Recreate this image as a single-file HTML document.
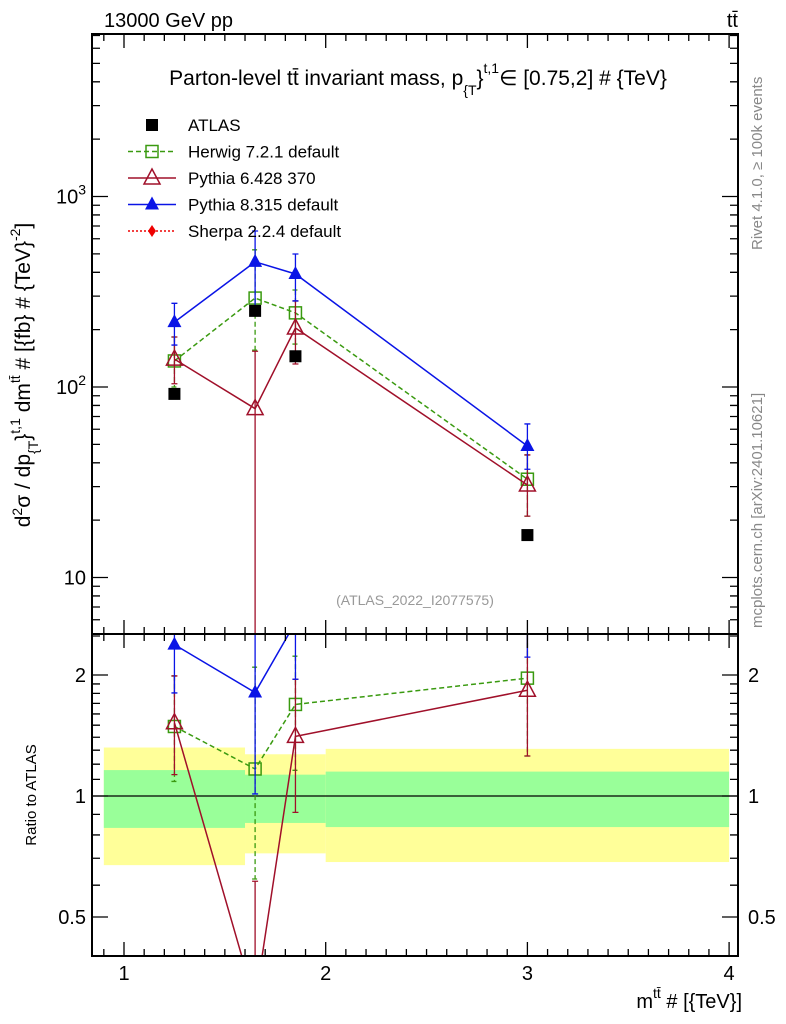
<!DOCTYPE html>
<html><head><meta charset="utf-8"><style>
html,body{margin:0;padding:0;background:#fff;width:786px;height:1024px;overflow:hidden}
svg{display:block;font-family:"Liberation Sans",sans-serif}
</style></head><body>
<svg id="c" width="786" height="1024" viewBox="0 0 786 1024" xmlns="http://www.w3.org/2000/svg">
<g id="bands"></g><g id="marks"></g><g id="axes"></g>
<text x="104" y="27" font-size="20">13000 GeV pp</text>
<text x="738" y="27" font-size="20" text-anchor="end">tt̄</text>
<text x="418" y="85" font-size="21" text-anchor="middle">Parton-level tt̄ invariant mass, p<tspan font-size="14" dy="10">{T</tspan><tspan font-size="21" dy="-10">}</tspan><tspan font-size="14" dy="-12">t,1</tspan><tspan font-size="21" dy="12">∈ [0.75,2] # {TeV}</tspan></text>
<text x="415" y="605" font-size="14" fill="#999" text-anchor="middle">(ATLAS_2022_I2077575)</text>
<text transform="translate(762,250) rotate(-90)" font-size="15" fill="#888">Rivet 4.1.0, ≥ 100k events</text>
<text transform="translate(762,628) rotate(-90)" font-size="15" fill="#888">mcplots.cern.ch [arXiv:2401.10621]</text>
<text transform="translate(30,375) rotate(-90)" font-size="21" text-anchor="middle">d<tspan font-size="14" dy="-8">2</tspan><tspan dy="8">σ / dp</tspan><tspan font-size="14" dy="8">{T</tspan><tspan dy="-8">}</tspan><tspan font-size="14" dy="-10">t,1</tspan><tspan dy="10"> dm</tspan><tspan font-size="14" dy="-10">tt̄</tspan><tspan dy="10"> # [{fb} # {TeV}</tspan><tspan font-size="14" dy="-10">-2</tspan><tspan dy="10">]</tspan></text>
<text transform="translate(36,795) rotate(-90)" font-size="15" text-anchor="middle">Ratio to ATLAS</text>
<text x="742" y="1008" font-size="20" text-anchor="end">m<tspan font-size="14" dy="-10">tt̄</tspan><tspan dy="10"> # [{TeV}]</tspan></text>
<g id="legend"></g>
</svg>
<script>
const xs=[1.25,1.65,1.85,3.0];
const atlas=[92,251,145,16.7];
const herwig=[137,293,245,32.8];
const herwigUp=[183,525,323,44];
const herwigDn=[100,156,168,21];
const py6=[140,77,204,30.6];
const py6Up=[183,154,283,44];
const py6Dn=[104,1,132,21];
const py8=[219,454,392,49];
const py8Up=[275,659,499,64];
const py8Dn=[166,254,283,37];
const binEdges=[0.9,1.6,2.0,4.0];
const yellowHi=[1.32,1.27,1.31];
const yellowLo=[0.673,0.72,0.685];
const greenHi=[1.16,1.13,1.15];
const greenLo=[0.833,0.857,0.837];
const xTicks=[1,2,3,4];

const NS="http://www.w3.org/2000/svg";
const L=92,R=738,T1=34,B1=634,B2=956;
const X=v=>124+(v-1)*201.7;
const Y=v=>387-(Math.log10(v)-2)*190.5;
const YR=v=>796-Math.log10(v)*402;
function mk(t,a,p){const e=document.createElementNS(NS,t);for(const k in a)e.setAttribute(k,a[k]);(p||document.getElementById('marks')).appendChild(e);return e;}
const defs=mk('defs',{},document.getElementById('c'));
const c1=mk('clipPath',{id:'cp1'},defs);mk('rect',{x:L,y:T1,width:R-L,height:B1-T1},c1);
const c2=mk('clipPath',{id:'cp2'},defs);mk('rect',{x:L,y:B1,width:R-L,height:B2-B1},c2);
const bands=document.getElementById('bands');
for(let i=0;i<3;i++){
 let r=mk('rect',{x:X(binEdges[i]),y:YR(yellowHi[i]),width:X(binEdges[i+1])-X(binEdges[i]),height:YR(yellowLo[i])-YR(yellowHi[i]),fill:'#ffff99'},bands);
 
 
 let g=mk('rect',{x:X(binEdges[i]),y:YR(greenHi[i]),width:X(binEdges[i+1])-X(binEdges[i]),height:YR(greenLo[i])-YR(greenHi[i]),fill:'#99ff99'},bands);
 
 
}
const marks=document.getElementById('marks');
const g1=mk('g',{'clip-path':'url(#cp1)'},marks);
const g2=mk('g',{'clip-path':'url(#cp2)'},marks);
mk('line',{x1:L,x2:R,y1:YR(1),y2:YR(1),stroke:'#000','stroke-width':1.3},g2);
function marker(type,col,x,y,p){
 if(type==='sq')return mk('rect',{x:x-6,y:y-6,width:12,height:12,fill:'none',stroke:col,'stroke-width':1.5},p);
 if(type==='fsq')return mk('rect',{x:x-6,y:y-6,width:12,height:12,fill:col},p);
 if(type==='tri')return mk('path',{d:`M${x},${y-9}L${x+8},${y+6}L${x-8},${y+6}Z`,fill:'none',stroke:col,'stroke-width':1.5},p);
 if(type==='ftri')return mk('path',{d:`M${x},${y-8}L${x+7},${y+5}L${x-7},${y+5}Z`,fill:col},p);
 if(type==='dia')return mk('path',{d:`M${x},${y-6}L${x+4},${y}L${x},${y+6}L${x-4},${y}Z`,fill:col},p);
}
function series(name,vals,up,dn,col,dash,type){
 [[g1,Y,1],[g2,YR,0]].forEach(([g,f,main])=>{
  const v=i=>main?vals[i]:vals[i]/atlas[i];
  const u=i=>main?up[i]:up[i]/atlas[i];
  const d=i=>main?dn[i]:dn[i]/atlas[i];
  const pts=xs.map((x,i)=>X(x)+','+f(v(i))).join(' ');
  const pl=mk('polyline',{points:pts,fill:'none',stroke:col,'stroke-width':1.5,'stroke-dasharray':dash},g);
  
  
  xs.forEach((x,i)=>{
   const e=mk('path',{d:`M${X(x)},${f(u(i))}V${f(d(i))}M${X(x)-3},${f(u(i))}h6M${X(x)-3},${f(d(i))}h6`,stroke:col,'stroke-width':1.3,'stroke-dasharray':dash,fill:'none'},g);
   
   
   const m=marker(type,col,X(x),f(v(i)),g);
   
   
  });
 });
}
series('herwig',herwig,herwigUp,herwigDn,'#3a9a10','5,3','sq');
series('pythia6',py6,py6Up,py6Dn,'#a0102a','','tri');
series('pythia8',py8,py8Up,py8Dn,'#0a14e6','','ftri');
xs.forEach((x,i)=>{
 const m=marker('fsq','#000',X(x),Y(atlas[i]),g1);
 
 
});
const ax=document.getElementById('axes');
mk('rect',{x:L,y:T1,width:R-L,height:B1-T1,fill:'none',stroke:'#000','stroke-width':2},ax);
mk('rect',{x:L,y:B1,width:R-L,height:B2-B1,fill:'none',stroke:'#000','stroke-width':2},ax);
for(let v=0.9;v<=4.04;v+=0.1){
 const big=Math.abs(v-Math.round(v))<1e-6;const x=X(v),h=big?14:7;
 mk('path',{d:`M${x},${T1}v${h}M${x},${B1}v-${h}M${x},${B1}v${h}M${x},${B2}v-${h}`,stroke:'#000','stroke-width':1.3},ax);
}
xTicks.forEach(t=>{const tx=mk('text',{x:X(t),y:980,'font-size':20,'text-anchor':'middle'},ax);tx.textContent=t;
 
 });
for(let d=0;d<4;d++)for(let k=1;k<10;k++){
 const v=k*Math.pow(10,d);const y=Y(v);if(y<T1||y>B1)continue;const h=k===1?16:8;
 mk('path',{d:`M${L},${y}h${h}M${R},${y}h-${h}`,stroke:'#000','stroke-width':1.3},ax);
}
[[10,'10'],[100,'10²'],[1000,'10³']].forEach(([v,s])=>{
 const t=mk('text',{x:86,y:Y(v)+7,'font-size':20,'text-anchor':'end'},ax);
 if(v===10)t.textContent='10';else{t.textContent='10';const sp=mk('tspan',{'font-size':14,dy:-9},t);sp.textContent=v===100?'2':'3';}
 
 
});
for(let v=0.4;v<=2.55;v+=(v<1.99?0.1:0.5)){
 const y=YR(v);if(y<B1||y>B2)continue;const big=[0.5,1,2].some(q=>Math.abs(q-v)<1e-6);const h=big?16:8;
 mk('path',{d:`M${L},${y}h${h}M${R},${y}h-${h}`,stroke:'#000','stroke-width':1.3},ax);
}
[[0.5,'0.5'],[1,'1'],[2,'2']].forEach(([v,s])=>{
 [[86,'end'],[748,'start']].forEach(([x,a])=>{
  const t=mk('text',{x:x,y:YR(v)+7,'font-size':20,'text-anchor':a},ax);t.textContent=s;
  
  
 });
});
const lg=document.getElementById('legend');
const items=[['ATLAS','#000','','fsq'],['Herwig 7.2.1 default','#3a9a10','5,3','sq'],['Pythia 6.428 370','#a0102a','','tri'],['Pythia 8.315 default','#0a14e6','','ftri'],['Sherpa 2.2.4 default','#e00','2,2','dia']];
items.forEach((it,i)=>{
 const y=125+i*26.5;
 const g=mk('g',{},lg);
 
 
 if(i>0)mk('line',{x1:128,x2:176,y1:y,y2:y,stroke:it[1],'stroke-width':1.5,'stroke-dasharray':it[2]},g);
 marker(it[3],it[1],152,y,g);
 const t=mk('text',{x:188,y:y+6,'font-size':17},g);t.textContent=it[0];
});
</script>
</body></html>
